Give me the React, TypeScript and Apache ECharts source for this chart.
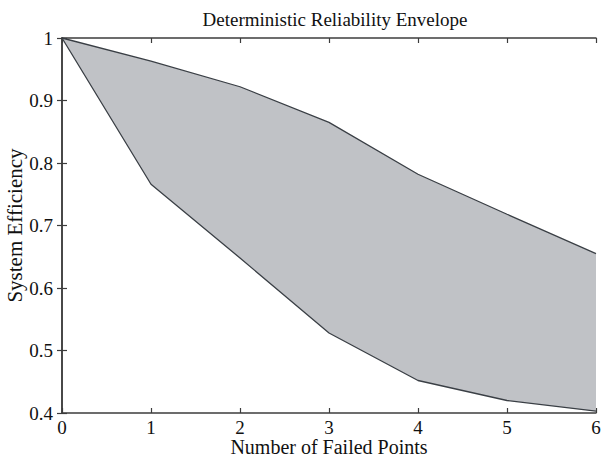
import React, { useEffect, useRef } from "react";
import * as echarts from "echarts";

const failedPoints = [0, 1, 2, 3, 4, 5, 6];
const upperEfficiency = [1, 0.963, 0.922, 0.865, 0.782, 0.718, 0.655];
const lowerEfficiency = [1, 0.766, 0.648, 0.528, 0.452, 0.42, 0.403];
const xTicks = [0, 6, 1];
const yTicks = [0.4, 1, 0.1];

const FONT = "Liberation Serif";

export default function App() {
  const ref = useRef<HTMLDivElement>(null);
  useEffect(() => {
    if (!ref.current) return;
    const chart = echarts.init(ref.current, null, { renderer: "svg" });
    const upperData = failedPoints.map((x, i) => [x, upperEfficiency[i]]);
    const lowerData = failedPoints.map((x, i) => [x, lowerEfficiency[i]]);
    const bandData = failedPoints.map((x, i) => [x, lowerEfficiency[i], upperEfficiency[i]]);
    const axisLine = { show: true, lineStyle: { color: "#3c3c3c", width: 1.5 } };
    const tick = { show: true, inside: true, length: 5, lineStyle: { color: "#3c3c3c", width: 1.2 } };
    const xBase = { type: "value", min: xTicks[0], max: xTicks[1], interval: xTicks[2], splitLine: { show: false } };
    const yBase = { type: "value", min: yTicks[0], max: yTicks[1], interval: yTicks[2], splitLine: { show: false } };
    chart.setOption({
      animation: false,
      backgroundColor: "#ffffff",
      title: {
        text: "Deterministic Reliability Envelope",
        left: 330,
        textAlign: "center",
        top: 5,
        textStyle: { fontFamily: FONT, fontSize: 19, fontWeight: "normal", color: "#111" },
      },
      grid: { left: 62, right: 5, top: 38, bottom: 45, containLabel: false, outerBoundsMode: "none" },
      xAxis: [
        {
          ...xBase,
          name: "Number of Failed Points", nameLocation: "middle", nameGap: 24, nameMoveOverlap: false,
          nameTextStyle: { fontFamily: FONT, fontSize: 20, color: "#111", verticalAlign: "top" },
          axisLine, axisTick: tick,
          axisLabel: { fontFamily: FONT, fontSize: 19, color: "#111", margin: 5 },
        },
        { ...xBase, position: "top", axisLine, axisTick: tick, axisLabel: { show: false } },
      ],
      yAxis: [
        {
          ...yBase,
          name: "System Efficiency", nameLocation: "middle", nameGap: 37, nameMoveOverlap: false,
          nameTextStyle: { fontFamily: FONT, fontSize: 21, color: "#111" },
          axisLine, axisTick: tick,
          axisLabel: { fontFamily: FONT, fontSize: 19, color: "#111", margin: 9, formatter: (v: number) => String(Math.round(v * 10) / 10) },
        },
        { ...yBase, position: "right", axisLine, axisTick: tick, axisLabel: { show: false } },
      ],
      series: [
        {
          type: "custom",
          data: bandData,
          z: 1,
          renderItem: (params: any, api: any) => {
            if (params.dataIndex !== 0) return null;
            const top = bandData.map((d) => api.coord([d[0], d[2]]));
            const bottom = bandData.slice().reverse().map((d) => api.coord([d[0], d[1]]));
            return {
              type: "polygon",
              shape: { points: top.concat(bottom) },
              style: { fill: "#c0c2c6", stroke: "none" },
            };
          },
        },
        {
          type: "line", data: upperData, symbol: "none", z: 3,
          lineStyle: { color: "#3a3f45", width: 1.3 },
        },
        {
          type: "line", data: lowerData, symbol: "none", z: 3,
          lineStyle: { color: "#3a3f45", width: 1.3 },
        },
      ],
    });
    return () => chart.dispose();
  }, []);
  return <div ref={ref} style={{ width: 601, height: 458, position: "absolute", left: 0, top: 0 }} />;
}
